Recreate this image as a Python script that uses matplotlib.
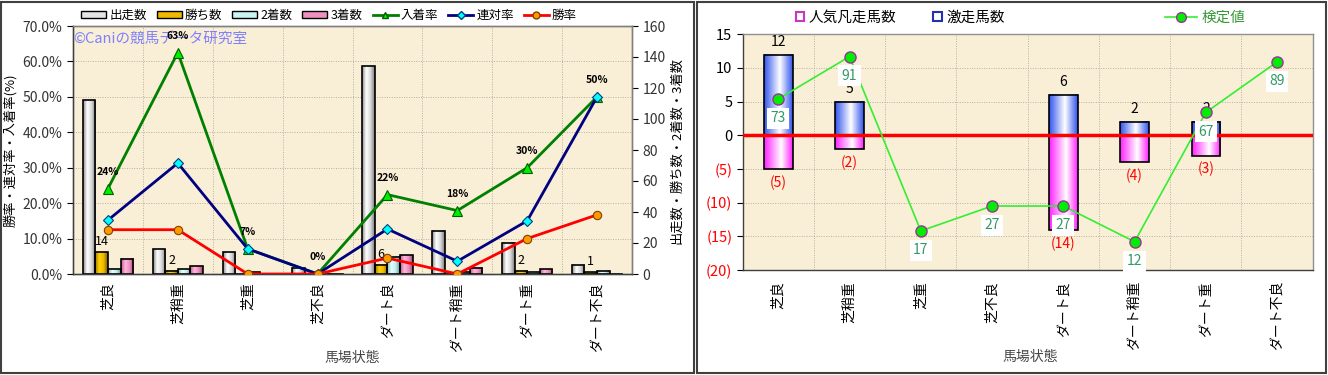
import numpy as np
import matplotlib
matplotlib.use('Agg')
import matplotlib.pyplot as plt
from matplotlib.colors import LinearSegmentedColormap
from matplotlib.patches import Rectangle, Patch
from matplotlib.lines import Line2D
from matplotlib.ticker import FuncFormatter
import matplotlib.transforms as mtransforms

plt.rcParams['font.family'] = ['Noto Sans CJK JP', 'DejaVu Sans']
plt.rcParams['font.size'] = 9

# data
categories = ['芝良', '芝稍重', '芝重', '芝不良', 'ダート良', 'ダート稍重', 'ダート重', 'ダート不良']

starts = [112, 16, 14, 4, 134, 28, 20, 6]
wins = [14, 2, 0, 0, 6, 0, 2, 1]
seconds = [3, 3, 1, 0, 11, 1, 1, 2]
thirds = [10, 5, 0, 0, 12, 4, 3, 0]

win_rate = [12.5, 12.5, 0.0, 0.0, 4.5, 0.0, 10.0, 16.7]
rentai_rate = [15.2, 31.3, 7.1, 0.0, 12.7, 3.6, 15.0, 50.0]
place_rate = [24.1, 62.5, 7.1, 0.0, 22.4, 17.9, 30.0, 50.0]
place_labels = ['24%', '63%', '7%', '0%', '22%', '18%', '30%', '50%']

gekisou = [12, 5, 0, 0, 6, 2, 2, 0]
bonsou = [-5, -2, 0, 0, -14, -4, -3, 0]
kentei = [5.4, 11.7, -14.2, -10.5, -10.5, -15.8, 3.4, 10.9]
kentei_labels = ['73', '91', '17', '27', '27', '12', '67', '89']

right_ticks = [15, 10, 5, 0, -5, -10, -15, -20]
right_ticklabels = ['15', '10', '5', '0', '(5)', '(10)', '(15)', '(20)']

BG = '#F9EED6'
GRID = '#B8B0A0'


def grad_bar(ax, x0, w, y0, y1, colors, lw=1.2):
    if y1 == y0:
        return
    cmap = LinearSegmentedColormap.from_list('g', colors)
    img = np.linspace(0, 1, 64).reshape(1, -1)
    ax.imshow(img, cmap=cmap, extent=(x0, x0 + w, min(y0, y1), max(y0, y1)),
              aspect='auto', zorder=2, interpolation='bilinear')
    ax.add_patch(Rectangle((x0, min(y0, y1)), w, abs(y1 - y0), fill=False,
                           ec='black', lw=lw, zorder=3))


fig = plt.figure(figsize=(13.28, 3.75), dpi=100)

# ---------------- left chart ----------------
ax = fig.add_axes([73 / 1328, 101 / 375, 559 / 1328, 248 / 375])   # counts (right ticks)
ax2 = ax.twinx()                                                     # rates (left ticks)
ax.yaxis.tick_right()
ax.yaxis.set_label_position('right')
ax2.yaxis.tick_left()
ax2.yaxis.set_label_position('left')
ax.set_facecolor(BG)
ax2.patch.set_visible(False)

ax.set_xlim(-0.5, len(categories) - 0.5)
ax.set_ylim(0, 160)
ax2.set_ylim(0, 70)

bar_w = 0.18
bar_sets = [
    (starts, ['#8a8a8a', '#ffffff', '#d8d8d8', '#7a7a7a']),
    (wins, ['#9a7800', '#ffd400', '#f0b800', '#7a5a00']),
    (seconds, ['#7fb8b8', '#e8ffff', '#c0f0f0', '#6a9a9a']),
    (thirds, ['#b85a8a', '#ffb8dc', '#f090c0', '#905070']),
]
for k, (vals, cols) in enumerate(bar_sets):
    for i, v in enumerate(vals):
        x0 = i - 2 * bar_w + k * bar_w
        if v > 0:
            grad_bar(ax, x0, bar_w, 0, v, cols)
        else:
            ax.plot([x0, x0 + bar_w], [0, 0], color='black', lw=1.2, zorder=3)

# wins count labels
for i, v in enumerate(wins):
    if v > 0:
        ax.annotate(str(v), (i - bar_w / 2, v), xytext=(0, 3), textcoords='offset points',
                    ha='center', va='bottom', fontsize=9, zorder=6)

# grid
tr = mtransforms.blended_transform_factory(ax.transAxes, ax2.transData)
for p in range(10, 70, 10):
    ax.plot([0, 1], [p, p], transform=tr, color=GRID, lw=0.7, ls=(0, (1, 1.5)), zorder=1)
for b in np.arange(0.5, len(categories) - 1, 1.0):
    ax.axvline(b, color=GRID, lw=0.7, ls=(0, (1, 1.5)), zorder=1)

xs = np.arange(len(categories))
ax2.plot(xs, place_rate, color='#008000', lw=2, marker='^', ms=7, mfc='#00ee00', mec='#006000',
         mew=0.8, zorder=5)
ax2.plot(xs, rentai_rate, color='#000080', lw=2, marker='D', ms=5, mfc='#00ffff', mec='#004080',
         mew=0.8, zorder=5)
ax2.plot(xs, win_rate, color='#ff0000', lw=2, marker='o', ms=6, mfc='#ff9900', mec='#804000',
         mew=0.8, zorder=5)
for i, (v, lab) in enumerate(zip(place_rate, place_labels)):
    ax2.annotate(lab, (i, v), xytext=(0, 12), textcoords='offset points', ha='center',
                 va='center', fontsize=7.5, fontweight='bold', zorder=6)

ax2.text(-0.5, 66.0, '©Caniの競馬データ研究室', color='#8080ff', fontsize=10.5,
         ha='left', va='center', zorder=4)

ax.set_xticks(xs)
ax.set_xticklabels(categories, rotation=90, fontsize=10)
ax.tick_params(axis='x', length=0, pad=6)
ax.set_yticks(range(0, 161, 20))
ax.tick_params(axis='y', right=True, labelright=True, left=False, labelleft=False,
               labelsize=10, labelcolor='#333333', length=4, direction='out')
ax2.set_yticks(range(0, 71, 10))
ax2.yaxis.set_major_formatter(FuncFormatter(lambda v, p: f'{v:.1f}%'))
ax2.tick_params(axis='y', labelsize=10, labelcolor='#333333', length=4, direction='out')
for a in (ax, ax2):
    for s in a.spines.values():
        s.set_color('#808080')
        s.set_linewidth(1.0)
ax2.spines['left'].set_color('#404040')
ax2.spines['bottom'].set_color('#404040')

ax.set_ylabel('出走数・勝ち数・2着数・3着数', fontsize=9.5, labelpad=3)
ax2.set_ylabel('勝率・連対率・入着率(%)', fontsize=9.5, labelpad=4)
fig.text(352 / 1328, 1 - 358 / 375, '馬場状態', ha='center', va='center', fontsize=10,
         color='#444444')

left_handles = [
    Patch(fc='#e4e4e4', ec='black', lw=1),
    Patch(fc='#f0b800', ec='black', lw=1),
    Patch(fc='#c8f4f4', ec='black', lw=1),
    Patch(fc='#f090c0', ec='black', lw=1),
    Line2D([], [], color='#008000', lw=2, marker='^', ms=5, mfc='#00ee00', mec='#006000'),
    Line2D([], [], color='#000080', lw=2, marker='D', ms=4, mfc='#00ffff', mec='#004080'),
    Line2D([], [], color='#ff0000', lw=2, marker='o', ms=5, mfc='#ff9900', mec='#804000'),
]
left_labels = ['出走数', '勝ち数', '2着数', '3着数', '入着率', '連対率', '勝率']
fig.legend(left_handles, left_labels, ncol=7, loc='center', bbox_to_anchor=(329 / 1328, 1 - 15 / 375),
           frameon=False, fontsize=9, handlelength=2.0, handleheight=0.5, handletextpad=0.25,
           columnspacing=0.8, borderpad=0)

# ---------------- right chart ----------------
bx = fig.add_axes([742.7 / 1328, 105 / 375, 570 / 1328, 235.7 / 375])
bx.set_facecolor(BG)
bx.set_xlim(-0.5, len(categories) - 0.5)
bx.set_ylim(-20, 15)

for v in range(-15, 15, 5):
    bx.axhline(v, color=GRID, lw=0.7, ls=(0, (1, 1.5)), zorder=1)
for b in np.arange(0.5, len(categories) - 1, 1.0):
    bx.axvline(b, color=GRID, lw=0.7, ls=(0, (1, 1.5)), zorder=1)

bw = 0.4
for i, (g, n) in enumerate(zip(gekisou, bonsou)):
    if g != 0:
        grad_bar(bx, i - bw / 2, bw, 0, g, [(0, '#3355ee'), (0.55, '#ffffff'), (1, '#3355ee')])
        bx.annotate(str(g), (i, g), xytext=(0, 9), textcoords='offset points', ha='center',
                    va='center', fontsize=10, zorder=4)
    if n != 0:
        grad_bar(bx, i - bw / 2, bw, n, 0, [(0, '#ff22ff'), (0.6, '#ffffff'), (1, '#ff22ff')])
        bx.annotate(f'({-n})', (i, n), xytext=(0, -10), textcoords='offset points', ha='center',
                    va='center', fontsize=10, color='#ff0000', zorder=4)

bx.axhline(0, color='#ff0000', lw=2.5, zorder=4)

bx.plot(xs, kentei, color='#33ee33', lw=1.2, marker='o', ms=8, mfc='#00ee00', mec='#993399',
        mew=1, zorder=5)
for i, (v, lab) in enumerate(zip(kentei, kentei_labels)):
    bx.annotate(lab, (i, v), xytext=(0, -14), textcoords='offset points', ha='center', va='center',
                fontsize=10, color='#339966', zorder=6,
                bbox=dict(boxstyle='square,pad=0.25', fc='white', ec='none'))

bx.set_xticks(xs)
bx.set_xticklabels(categories, rotation=90, fontsize=10)
bx.tick_params(axis='x', length=0, pad=8)
bx.set_yticks(right_ticks)
bx.set_yticklabels(right_ticklabels)
bx.tick_params(axis='y', labelsize=10.5, length=4, direction='out')
for t, lab in zip(bx.get_yticklabels(), right_ticklabels):
    t.set_color('#ff0000' if lab.startswith('(') else 'black')
for s in bx.spines.values():
    s.set_color('#909090')
    s.set_linewidth(1.0)
bx.spines['left'].set_color('#404040')
bx.spines['bottom'].set_color('#404040')
fig.text(1030 / 1328, 1 - 357 / 375, '馬場状態', ha='center', va='center', fontsize=10,
         color='#444444')

bar_handles = [Patch(fc='white', ec='#cc33cc', lw=1.5), Patch(fc='white', ec='#2233aa', lw=1.5)]
fig.legend(bar_handles, ['人気凡走馬数', '激走馬数'], ncol=2, loc='center',
           bbox_to_anchor=(900 / 1328, 1 - 18 / 375), frameon=False, fontsize=10.5,
           handlelength=0.6, handleheight=0.6, handletextpad=0.3, columnspacing=2.5, borderpad=0)
leg = fig.legend([Line2D([], [], color='#33ee33', lw=1.2, marker='o', ms=7, mfc='#00ee00',
                         mec='#993399')], ['検定値'], loc='center',
                 bbox_to_anchor=(1205 / 1328, 1 - 18 / 375), frameon=False, fontsize=10.5,
                 handlelength=2.2, handletextpad=0.3, borderpad=0)
for t in leg.get_texts():
    t.set_color('#339933')

# panel frames
fig.add_artist(Rectangle((1 / 1328, 2 / 375), 693 / 1328, 371 / 375, transform=fig.transFigure,
                         fill=False, ec='#404040', lw=1.5))
fig.add_artist(Rectangle((697 / 1328, 2 / 375), 629 / 1328, 371 / 375, transform=fig.transFigure,
                         fill=False, ec='#404040', lw=1.5))

fig.savefig('out.png', dpi=100)
